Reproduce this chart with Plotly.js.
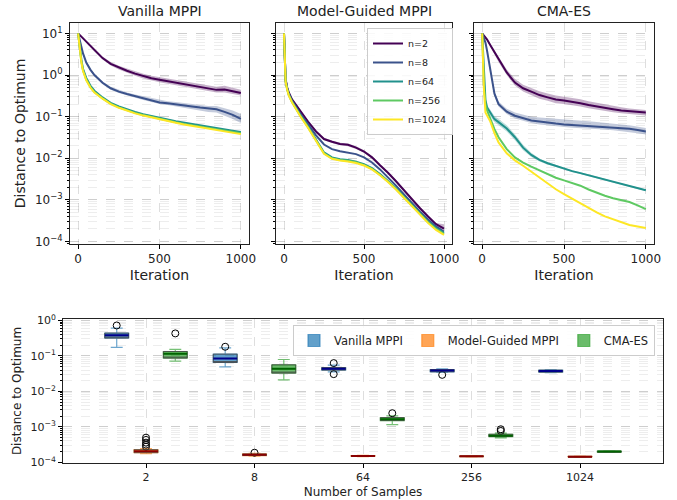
<!DOCTYPE html>
<html>
<head>
<meta charset="utf-8">
<script src="https://cdn.plot.ly/plotly-3.0.1.min.js"></script>
<style>html,body{margin:0;padding:0;background:#fff}#chart{width:677px;height:500px}</style>
</head>
<body>
<div id="chart"></div>
<script>
// ---------------- data: convergence curves ----------------
const iterations = [0,10,20,30,50,75,100,150,200,250,300,350,400,450,500,550,600,650,700,750,800,850,900,950,1000];
const sampleLabels = ['n=2','n=8','n=64','n=256','n=1024'];

// Vanilla MPPI
const vanilla_n2    = [10,9.1,8.4,7.7,6.4,5.0,3.9,2.55,1.85,1.5,1.27,1.08,0.94,0.84,0.77,0.71,0.66,0.6,0.56,0.52,0.48,0.44,0.45,0.41,0.37];
const vanilla_n2_lo = [10,8.8,8.0,7.3,6.0,4.6,3.6,2.35,1.7,1.35,1.13,0.96,0.83,0.74,0.67,0.62,0.57,0.52,0.48,0.45,0.41,0.38,0.38,0.35,0.32];
const vanilla_n2_hi = [10,9.4,8.8,8.1,6.8,5.4,4.2,2.8,2.05,1.67,1.43,1.22,1.07,0.96,0.89,0.82,0.77,0.7,0.66,0.61,0.57,0.52,0.55,0.49,0.44];
const vanilla_n8    = [10,6.5,4.5,3.3,2.0,1.35,1.0,0.65,0.48,0.4,0.35,0.31,0.28,0.25,0.22,0.21,0.2,0.185,0.175,0.165,0.155,0.15,0.13,0.11,0.088];
const vanilla_n8_lo = [10,6.2,4.3,3.1,1.88,1.27,0.94,0.6,0.44,0.37,0.32,0.28,0.25,0.225,0.2,0.19,0.175,0.16,0.15,0.14,0.13,0.125,0.105,0.088,0.07];
const vanilla_n8_hi = [10,6.8,4.7,3.5,2.12,1.43,1.07,0.7,0.52,0.44,0.38,0.34,0.31,0.28,0.25,0.235,0.225,0.21,0.2,0.19,0.18,0.18,0.16,0.14,0.115];
const vanilla_n64   = [10,4.4,2.3,1.4,0.85,0.56,0.42,0.29,0.215,0.175,0.148,0.13,0.115,0.103,0.093,0.085,0.078,0.072,0.066,0.061,0.057,0.053,0.05,0.046,0.043];
const vanilla_n256  = [10,4.1,2.1,1.3,0.78,0.52,0.39,0.275,0.205,0.167,0.141,0.123,0.109,0.098,0.088,0.08,0.073,0.067,0.062,0.057,0.053,0.049,0.046,0.043,0.04];
const vanilla_n1024 = [10,4.0,2.0,1.25,0.75,0.5,0.38,0.27,0.2,0.163,0.138,0.12,0.106,0.095,0.086,0.078,0.071,0.065,0.06,0.055,0.051,0.047,0.044,0.041,0.038];

// Model-Guided MPPI
const guided_n2    = [10,0.79,0.5,0.38,0.26,0.19,0.138,0.076,0.044,0.029,0.025,0.022,0.021,0.018,0.0145,0.0105,0.0068,0.0045,0.0028,0.0017,0.001,0.00063,0.0004,0.00026,0.000204];
const guided_n2_lo = [10,0.75,0.47,0.36,0.245,0.178,0.13,0.071,0.041,0.027,0.0233,0.0205,0.0195,0.0167,0.0135,0.0098,0.0063,0.0042,0.0026,0.00158,0.00093,0.00058,0.00037,0.00024,0.00019];
const guided_n2_hi = [10,0.83,0.53,0.4,0.275,0.2,0.146,0.081,0.047,0.031,0.0268,0.0236,0.0226,0.0194,0.0156,0.0113,0.0073,0.0048,0.003,0.00183,0.00108,0.00068,0.00043,0.00028,0.00026];
const guided_n8    = [10,0.76,0.48,0.355,0.24,0.166,0.12,0.066,0.0355,0.0214,0.0166,0.0148,0.0138,0.0126,0.0105,0.0079,0.0054,0.0035,0.0022,0.00135,0.00083,0.00052,0.00034,0.00023,0.000174];
const guided_n64   = [10,0.72,0.46,0.34,0.23,0.158,0.112,0.058,0.0275,0.0138,0.0105,0.0095,0.0091,0.0083,0.0072,0.0058,0.0042,0.0029,0.0019,0.0012,0.00076,0.00048,0.0003,0.00021,0.000162];
const guided_n256  = [10,0.7,0.45,0.33,0.225,0.154,0.108,0.056,0.0265,0.0132,0.01,0.0091,0.0087,0.008,0.0069,0.0056,0.004,0.0028,0.00183,0.00115,0.00073,0.00046,0.00029,0.0002,0.000152];
const guided_n1024 = [10,0.69,0.44,0.32,0.22,0.15,0.105,0.054,0.0255,0.0128,0.0097,0.0088,0.0084,0.0077,0.0067,0.0054,0.0039,0.0027,0.00177,0.0011,0.0007,0.00044,0.00028,0.00019,0.000145];

// CMA-ES
const cma_n2     = [10,9.1,8.1,7.1,5.2,3.55,2.3,1.15,0.66,0.48,0.4,0.33,0.29,0.257,0.245,0.23,0.21,0.19,0.174,0.162,0.151,0.141,0.135,0.129,0.126];
const cma_n2_lo  = [10,9.0,7.9,6.8,4.9,3.25,2.05,1.0,0.56,0.4,0.33,0.27,0.24,0.21,0.2,0.19,0.175,0.16,0.147,0.137,0.128,0.12,0.115,0.11,0.107];
const cma_n2_hi  = [10,9.3,8.4,7.4,5.6,3.9,2.6,1.35,0.8,0.58,0.49,0.41,0.36,0.32,0.3,0.285,0.26,0.235,0.215,0.195,0.18,0.168,0.158,0.15,0.145];
const cma_n8     = [10,7.9,6.0,3.8,1.26,0.355,0.2,0.132,0.105,0.091,0.081,0.076,0.071,0.068,0.065,0.063,0.062,0.06,0.059,0.0575,0.056,0.054,0.051,0.048,0.044];
const cma_n8_lo  = [10,7.7,5.7,3.5,1.1,0.31,0.175,0.115,0.09,0.078,0.07,0.065,0.061,0.058,0.056,0.054,0.053,0.051,0.05,0.049,0.047,0.045,0.043,0.04,0.037];
const cma_n8_hi  = [10,8.1,6.3,4.1,1.45,0.41,0.23,0.155,0.125,0.11,0.1,0.095,0.092,0.09,0.088,0.085,0.082,0.078,0.074,0.07,0.068,0.065,0.062,0.058,0.053];
const cma_n64    = [10,1.0,0.25,0.166,0.12,0.087,0.074,0.052,0.032,0.018,0.012,0.0091,0.0076,0.0065,0.0056,0.0049,0.0044,0.0039,0.0035,0.003,0.0027,0.0024,0.00214,0.0019,0.0017];
const cma_n64_lo = [10,0.95,0.22,0.145,0.102,0.074,0.063,0.044,0.027,0.0155,0.0107,0.0084,0.0071,0.0061,0.0053,0.0047,0.0042,0.0037,0.0033,0.00285,0.0026,0.0023,0.00205,0.00182,0.00163];
const cma_n64_hi = [10,1.05,0.28,0.19,0.142,0.103,0.088,0.062,0.038,0.021,0.0135,0.0099,0.0081,0.0069,0.0059,0.0051,0.0046,0.0041,0.0037,0.0032,0.0028,0.0025,0.00223,0.00198,0.00177];
const cma_n256   = [10,0.63,0.2,0.141,0.089,0.05,0.032,0.0166,0.0105,0.0079,0.0063,0.0052,0.0042,0.0034,0.00295,0.00257,0.00219,0.00178,0.00148,0.00126,0.0011,0.001,0.00089,0.00074,0.0006];
const cma_n1024  = [10,0.5,0.126,0.107,0.076,0.04,0.024,0.0132,0.0089,0.0066,0.0048,0.0034,0.0025,0.0018,0.00138,0.00107,0.00083,0.00063,0.0005,0.0004,0.00034,0.00029,0.00025,0.00023,0.00021];

// ---------------- data: final distance box statistics ----------------
const sampleCounts = ['2','8','64','256','1024'];
const methodNames = ['Vanilla MPPI','Model-Guided MPPI','CMA-ES'];

const vanilla_q1     = [0.318,0.065,0.0398,0.0356,0.0348];
const vanilla_median = [0.38,0.0845,0.0432,0.0387,0.0372];
const vanilla_q3     = [0.44,0.112,0.047,0.0413,0.0397];
const vanilla_low    = [0.173,0.0492,0.0355,0.034,0.0335];
const vanilla_high   = [0.61,0.169,0.055,0.043,0.041];
const vanilla_out    = [[0.72],[0.181],[0.0626,0.0306],[0.0292],[]];

const guided_q1      = [1.86e-4,1.55e-4,1.48e-4,1.45e-4,1.41e-4];
const guided_median  = [2.04e-4,1.62e-4,1.51e-4,1.48e-4,1.44e-4];
const guided_q3      = [2.27e-4,1.72e-4,1.54e-4,1.51e-4,1.47e-4];
const guided_low     = [1.74e-4,1.5e-4,1.45e-4,1.42e-4,1.38e-4];
const guided_high    = [2.45e-4,1.8e-4,1.57e-4,1.54e-4,1.5e-4];
const guided_out     = [[4.95e-4,4.27e-4,3.58e-4,3.14e-4,2.75e-4],[1.86e-4],[],[],[]];

const cma_q1         = [0.0867,0.0327,1.5e-3,5.28e-4,1.94e-4];
const cma_median     = [0.115,0.0432,1.64e-3,5.64e-4,2.0e-4];
const cma_q3         = [0.133,0.056,1.82e-3,6.18e-4,2.06e-4];
const cma_low        = [0.0713,0.0211,1.15e-3,4.86e-4,1.9e-4];
const cma_high       = [0.152,0.079,2.03e-3,6.6e-4,2.1e-4];
const cma_out        = [[0.43],[],[2.42e-3],[8.55e-4,7.66e-4],[]];

// log-axis tick labels
const logTickVals = [1e-4,1e-3,1e-2,1e-1,1,10];
const logTickText = ['10<sup>−4</sup>','10<sup>−3</sup>','10<sup>−2</sup>','10<sup>−1</sup>','10<sup>0</sup>','10<sup>1</sup>'];

// ---------------- styling ----------------
const FONT = 'DejaVu Sans, Liberation Sans, sans-serif';
const viridis = ['#440154','#3b528b','#21918c','#5ec962','#fde725'];
const bandFill = ['rgba(68,1,84,0.3)','rgba(59,82,139,0.3)','rgba(33,145,140,0.3)'];

const traces = [];
function band(xa, ya, lo, hi, fill){
  traces.push({x: iterations, y: lo, xaxis: xa, yaxis: ya, mode: 'lines', line: {width: 0, color: fill}, showlegend: false, hoverinfo: 'skip'});
  traces.push({x: iterations, y: hi, xaxis: xa, yaxis: ya, mode: 'lines', line: {width: 0, color: fill}, fill: 'tonexty', fillcolor: fill, showlegend: false, hoverinfo: 'skip'});
}
function curves(xa, ya, series, legend){
  series.forEach((s, i) => {
    traces.push({x: iterations, y: s, xaxis: xa, yaxis: ya, mode: 'lines', name: sampleLabels[i],
      line: {color: viridis[i], width: 2}, showlegend: legend, legend: 'legend'});
  });
}
band('x','y', vanilla_n2_lo, vanilla_n2_hi, bandFill[0]);
band('x','y', vanilla_n8_lo, vanilla_n8_hi, bandFill[1]);
curves('x','y', [vanilla_n2, vanilla_n8, vanilla_n64, vanilla_n256, vanilla_n1024], false);
band('x2','y2', guided_n2_lo, guided_n2_hi, bandFill[0]);
curves('x2','y2', [guided_n2, guided_n8, guided_n64, guided_n256, guided_n1024], true);
band('x3','y3', cma_n2_lo, cma_n2_hi, bandFill[0]);
band('x3','y3', cma_n8_lo, cma_n8_hi, bandFill[1]);
band('x3','y3', cma_n64_lo, cma_n64_hi, bandFill[2]);
curves('x3','y3', [cma_n2, cma_n8, cma_n64, cma_n256, cma_n1024], false);

// box plots: whisker layer, gray box outline layer, median layer
const boxSets = [
  {name: methodNames[0], q1: vanilla_q1, med: vanilla_median, q3: vanilla_q3, lo: vanilla_low, hi: vanilla_high, out: vanilla_out,
   fill: 'rgba(31,119,180,0.7)', whisk: 'rgba(31,119,180,0.65)', medc: '#00008b', grp: 'v'},
  {name: methodNames[1], q1: guided_q1, med: guided_median, q3: guided_q3, lo: guided_low, hi: guided_high, out: guided_out,
   fill: 'rgba(255,127,14,0.7)', whisk: 'rgba(255,127,14,0.65)', medc: '#8b0000', grp: 'm'},
  {name: methodNames[2], q1: cma_q1, med: cma_median, q3: cma_q3, lo: cma_low, hi: cma_high, out: cma_out,
   fill: 'rgba(44,160,44,0.7)', whisk: 'rgba(44,160,44,0.65)', medc: '#006400', grp: 'c'}
];
boxSets.forEach(b => {
  traces.push({type: 'box', name: b.name, x: sampleCounts, y: b.out, q1: b.q1, median: b.med, q3: b.q3,
    lowerfence: b.lo, upperfence: b.hi, boxpoints: 'outliers', xaxis: 'x4', yaxis: 'y4',
    offsetgroup: b.grp, alignmentgroup: 'a', fillcolor: b.fill, line: {color: b.whisk, width: 1.2}, whiskerwidth: 0.5,
    marker: {symbol: 'circle-open', color: '#000', size: 7, line: {width: 1, color: '#000'}},
    legend: 'legend2', showlegend: true, hoverinfo: 'skip'});
  traces.push({type: 'box', name: b.name, x: sampleCounts, q1: b.q1, median: b.q1, q3: b.q3,
    lowerfence: b.q1, upperfence: b.q3, boxpoints: false, xaxis: 'x4', yaxis: 'y4',
    offsetgroup: b.grp, alignmentgroup: 'a', fillcolor: 'rgba(0,0,0,0)', line: {color: 'rgba(70,70,70,0.85)', width: 1}, whiskerwidth: 0,
    showlegend: false, hoverinfo: 'skip'});
  traces.push({type: 'box', name: b.name, x: sampleCounts, q1: b.med, median: b.med, q3: b.med,
    lowerfence: b.med, upperfence: b.med, boxpoints: false, xaxis: 'x4', yaxis: 'y4',
    offsetgroup: b.grp, alignmentgroup: 'a', fillcolor: 'rgba(0,0,0,0)', line: {color: b.medc, width: 2}, whiskerwidth: 0,
    showlegend: false, hoverinfo: 'skip'});
});

const W = 677, H = 500;
const px = v => v / W, py = v => 1 - v / H;
const gridMajor = 'rgba(0,0,0,0.13)', gridMinor = 'rgba(0,0,0,0.07)';

function xTop(l, r, anchor){
  return {domain: [px(l), px(r)], anchor: anchor, range: [-50, 1050], tickvals: [0,500,1000],
    ticks: 'outside', ticklen: 4, tickcolor: '#000', showline: true, mirror: true, linecolor: '#222', linewidth: 1,
    showgrid: true, gridcolor: gridMajor, griddash: 'dash', gridwidth: 1, zeroline: false,
    tickfont: {size: 12, color: '#222', family: FONT},
    title: {text: 'Iteration', font: {size: 14, color: '#222', family: FONT}, standoff: 4}};
}
function yLog(t, b, anchor, range, labels, fs){
  return {domain: [py(b), py(t)], anchor: anchor, type: 'log', range: range,
    tickmode: 'array', tickvals: logTickVals, ticktext: logTickText,
    showticklabels: labels, ticks: 'outside', ticklen: 4, tickcolor: '#000',
    minor: {dtick: 'D1', ticks: 'outside', ticklen: 2, tickcolor: '#000', showgrid: true, gridcolor: gridMinor, griddash: 'dash', gridwidth: 1},
    showline: true, mirror: true, linecolor: '#222', linewidth: 1,
    showgrid: true, gridcolor: gridMajor, griddash: 'dash', gridwidth: 1, zeroline: false,
    tickfont: {size: fs, color: '#222', family: FONT}};
}

const layout = {
  width: W, height: H, margin: {l: 0, r: 0, t: 0, b: 0}, paper_bgcolor: '#fff', plot_bgcolor: '#fff',
  font: {family: FONT, color: '#222'},
  xaxis: xTop(70, 249, 'y'),
  xaxis2: xTop(276, 452, 'y2'),
  xaxis3: xTop(474, 654, 'y3'),
  yaxis: Object.assign(yLog(23, 244, 'x', [-4.06, 1.25], true, 12),
    {title: {text: 'Distance to Optimum', font: {size: 14, color: '#222', family: FONT}, standoff: 6}}),
  yaxis2: Object.assign(yLog(23, 244, 'x2', [-4.06, 1.25], false, 12), {matches: 'y'}),
  yaxis3: Object.assign(yLog(23, 244, 'x3', [-4.06, 1.25], false, 12), {matches: 'y'}),
  xaxis4: {domain: [px(63), px(663)], anchor: 'y4', type: 'category', categoryorder: 'array', categoryarray: sampleCounts,
    range: [-0.765, 4.765], ticks: 'outside', ticklen: 4, tickcolor: '#000', showline: true, mirror: true, linecolor: '#222', linewidth: 1,
    showgrid: true, gridcolor: gridMajor, griddash: 'dash', zeroline: false,
    tickfont: {size: 11, color: '#222', family: FONT},
    title: {text: 'Number of Samples', font: {size: 12, color: '#222', family: FONT}, standoff: 4}},
  yaxis4: Object.assign(yLog(319, 463, 'x4', [-4.02, 0.04], true, 11),
    {title: {text: 'Distance to Optimum', font: {size: 12, color: '#222', family: FONT}, standoff: 6}}),
  boxmode: 'group', boxgap: 0.19, boxgroupgap: 0.185,
  showlegend: true,
  legend: {x: px(367), y: py(28), xanchor: 'left', yanchor: 'top', bgcolor: 'rgba(255,255,255,0.85)', traceorder: 'normal',
    bordercolor: '#cccccc', borderwidth: 1, font: {size: 9.5, family: FONT, color: '#222'}, itemwidth: 30, tracegroupgap: 0},
  legend2: {x: px(293), y: py(325), xanchor: 'left', yanchor: 'top', orientation: 'h', bgcolor: 'rgba(255,255,255,0.85)', traceorder: 'normal',
    bordercolor: '#cccccc', borderwidth: 1, font: {size: 11.5, family: FONT, color: '#222'}},
  annotations: [
    {text: 'Vanilla MPPI', x: (px(70)+px(249))/2, y: py(21), xref: 'paper', yref: 'paper', xanchor: 'center', yanchor: 'bottom', showarrow: false, font: {size: 14, family: FONT, color: '#222'}},
    {text: 'Model-Guided MPPI', x: (px(276)+px(452))/2, y: py(21), xref: 'paper', yref: 'paper', xanchor: 'center', yanchor: 'bottom', showarrow: false, font: {size: 14, family: FONT, color: '#222'}},
    {text: 'CMA-ES', x: (px(474)+px(654))/2, y: py(21), xref: 'paper', yref: 'paper', xanchor: 'center', yanchor: 'bottom', showarrow: false, font: {size: 14, family: FONT, color: '#222'}}
  ]
};

Plotly.newPlot('chart', traces, layout, {staticPlot: true, displayModeBar: false});
</script>
</body>
</html>
